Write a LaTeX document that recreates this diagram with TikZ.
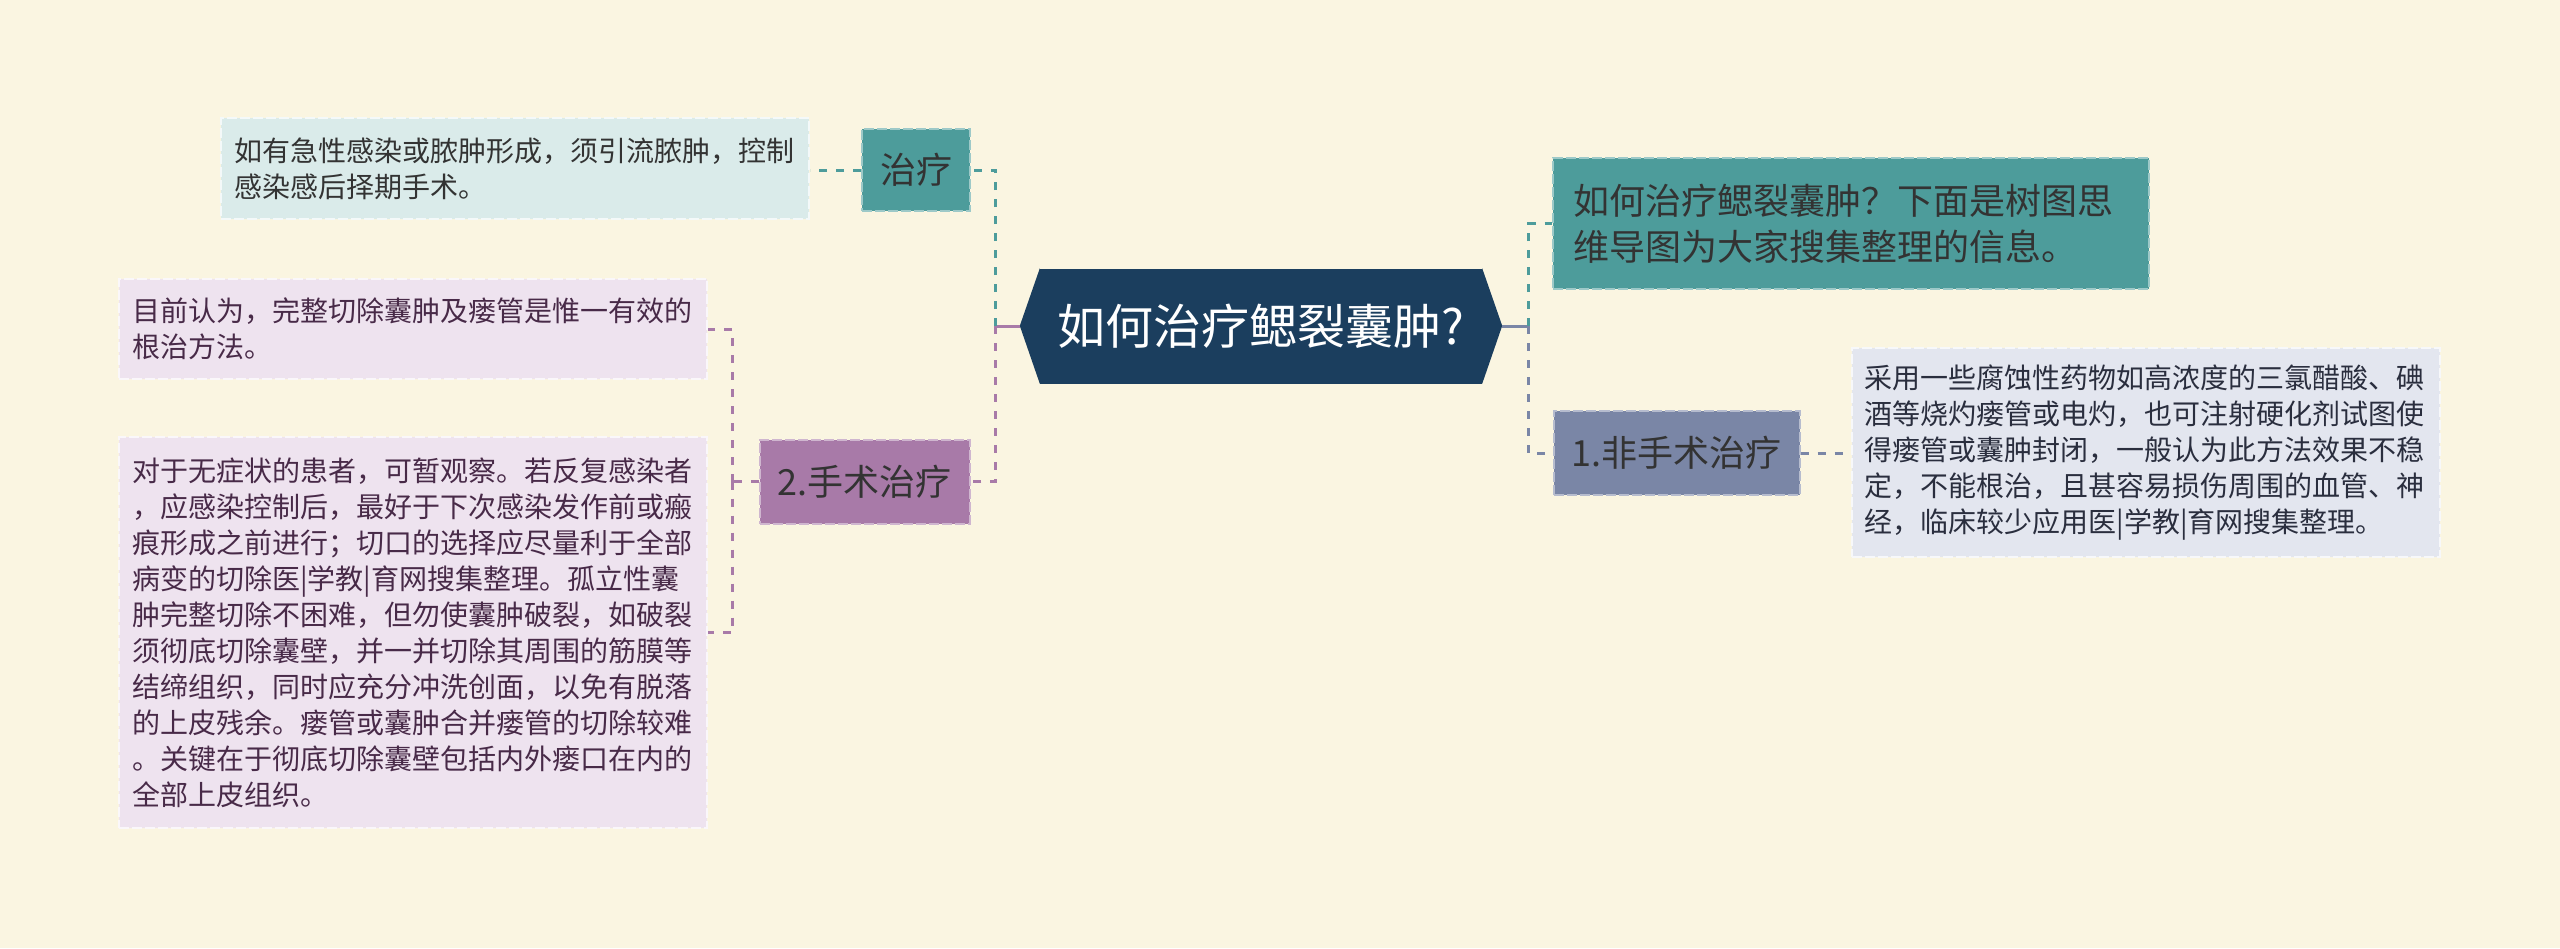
\documentclass[tikz,border=0pt]{standalone}
\usepackage{fontspec}
\setmainfont{Noto Sans CJK SC}
\usetikzlibrary{calc}

\definecolor{bgcream}{RGB}{250,245,225}
\definecolor{rootnavy}{RGB}{27,62,94}
\definecolor{tealbox}{RGB}{77,156,155}
\definecolor{slatebox}{RGB}{122,134,166}
\definecolor{plumbox}{RGB}{168,122,168}
\definecolor{tealleaf}{RGB}{218,235,234}
\definecolor{slateleaf}{RGB}{227,230,239}
\definecolor{plumleaf}{RGB}{238,227,239}
\definecolor{inktext}{RGB}{51,51,51}
\definecolor{plumtext}{RGB}{72,42,72}
\definecolor{slatetext}{RGB}{42,46,62}

\begin{document}
\begin{tikzpicture}[x=1pt,y=-1pt,
    conn/.style={line width=3pt,dash pattern=on 8pt off 9pt},
    topic/.style={draw=#1!55!white,fill=#1,line width=2pt,dash pattern=on 10pt off 3pt,
      inner xsep=18pt,minimum height=84pt,text=inktext,font=\fontsize{36}{46}\selectfont},
    leaf/.style={draw=white!70!#1,fill=#1,line width=2pt,dash pattern=on 10pt off 3pt,
      inner xsep=13pt,text width=562pt,align=left,font=\fontsize{28}{36}\selectfont}]
    % Background
    \fill[bgcream] (0,0) rectangle (2560,948);
    \useasboundingbox (0,0) rectangle (2560,948);

    % Root
    \node[fill=rootnavy,text=white,minimum width=442pt,minimum height=115pt,inner sep=0pt,
      font=\fontsize{48}{52}\selectfont] (root) at (1261,326) {如何治疗鳃裂囊肿?};
    \fill[rootnavy] (root.north west) -- ++(-20,57.5) -- (root.south west) -- cycle;
    \fill[rootnavy] (root.north east) -- ++(20,57.5) -- (root.south east) -- cycle;
    \coordinate (rootL) at ([xshift=-20pt]root.west);
    \coordinate (rootR) at ([xshift=20pt]root.east);

    % Right branch
    \node[topic=tealbox,text width=556pt,align=left,inner xsep=20pt,minimum height=131pt]
      (intro) at (1851,223.5) {如何治疗鳃裂囊肿？下面是树图思\\维导图为大家搜集整理的信息。};
    \node[topic=slatebox] (nonsurg) at (1676.5,453) {1.非手术治疗};
    \node[leaf=slateleaf,text=slatetext,minimum height=209pt] (nonsurgleaf) at (2145.5,452.5)
      {采用一些腐蚀性药物如高浓度的三氯醋酸、碘\\酒等烧灼瘘管或电灼，也可注射硬化剂试图使\\得瘘管或囊肿封闭，一般认为此方法效果不稳\\定，不能根治，且甚容易损伤周围的血管、神\\经，临床较少应用医|学教|育网搜集整理。};

    % Left branch
    \node[topic=tealbox,minimum height=82pt] (cure) at (916,170) {治疗};
    \node[leaf=tealleaf,text=inktext,minimum height=101pt] (cureleaf) at (515,168.5)
      {如有急性感染或脓肿形成，须引流脓肿，控制\\感染感后择期手术。};
    \node[topic=plumbox] (surg) at (864.5,481.5) {2.手术治疗};
    \node[leaf=plumleaf,text=plumtext,minimum height=100pt] (surgA) at (413,329)
      {目前认为，完整切除囊肿及瘘管是惟一有效的\\根治方法。};
    \node[leaf=plumleaf,text=plumtext,minimum height=391pt] (surgB) at (413,632.5)
      {对于无症状的患者，可暂观察。若反复感染者\\，应感染控制后，最好于下次感染发作前或瘢\\痕形成之前进行；切口的选择应尽量利于全部\\病变的切除医|学教|育网搜集整理。孤立性囊\\肿完整切除不困难，但勿使囊肿破裂，如破裂\\须彻底切除囊壁，并一并切除其周围的筋膜等\\结缔组织，同时应充分冲洗创面，以免有脱落\\的上皮残余。瘘管或囊肿合并瘘管的切除较难\\。关键在于彻底切除囊壁包括内外瘘口在内的\\全部上皮组织。};

    % Connectors, left
    \draw[plumbox,line width=3pt] (rootL) -- ++(-24,0) coordinate (lj);
    \draw[conn,tealbox] (lj) |- (cure.east);
    \draw[conn,plumbox] (lj) |- (surg.east);
    \draw[conn,tealbox] (cure.west) -- (cure.west -| cureleaf.east);
    \draw[conn,plumbox] (surg.west) -- ++(-26,0) coordinate (sj);
    \draw[conn,plumbox] (sj) |- (surgA.east);
    \draw[conn,plumbox] (sj) |- (surgB.east);

    % Connectors, right
    \draw[slatebox,line width=3pt] (rootR) -- ++(26,0) coordinate (rj);
    \draw[conn,tealbox] (rj) |- (intro.west);
    \draw[conn,slatebox] (rj) |- (nonsurg.west);
    \draw[conn,slatebox] (nonsurg.east) -- (nonsurg.east -| nonsurgleaf.west);
\end{tikzpicture}
\end{document}
